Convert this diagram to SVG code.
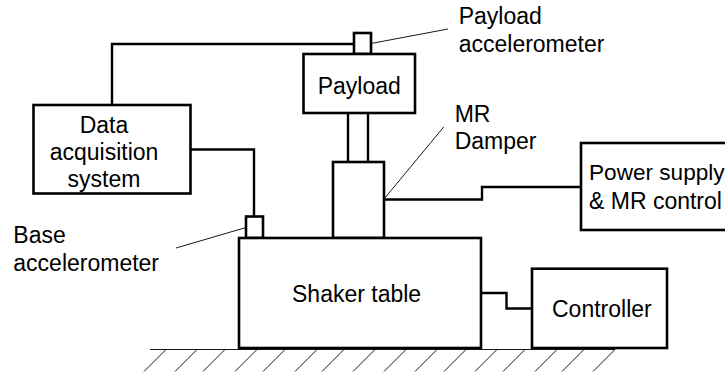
<svg xmlns="http://www.w3.org/2000/svg" width="725" height="373" viewBox="0 0 725 373">
<style>
.b{fill:#fff;stroke:#000;stroke-width:2.6}
.w{fill:none;stroke:#000;stroke-width:2.4}
.l{fill:none;stroke:#000;stroke-width:.9}
text{font-family:"Liberation Sans",Arial,sans-serif;font-size:23px;fill:#000}
text.p{font-size:22.6px}
</style>
<rect width="725" height="373" fill="#fff"/>
<g id="ground">
<path class="l" d="M150 349.500H615M166 349.500L144 371.500M197 349.500L175 371.500M225 349.500L203 371.500M257 349.500L235 371.500M285 349.500L263 371.500M317 349.500L295 371.500M344 349.500L322 371.500M375 349.500L353 371.500M406 349.500L384 371.500M437 349.500L415 371.500M466 349.500L444 371.500M497 349.500L475 371.500M525 349.500L503 371.500M557 349.500L535 371.500M584 349.500L562 371.500M615 349.500L593 371.500"/>
</g>
<g id="connectors">
<path class="w" d="M112 105V44H354"/>
<path class="w" d="M190.500 149.500H254V217"/>
<path class="w" d="M348 113V162M368 113V162"/>
<path class="w" d="M384 199.500H482V187H581"/>
<path class="w" d="M481 293H506.500V308.500H532"/>
<path class="l" d="M371 43.500L448 29M176 248L246 227.500M443.700 127L384 199"/>
</g>
<g id="payload-accelerometer"><rect class="b" x="354" y="33" width="17" height="21"/></g>
<g id="base-accelerometer"><rect class="b" x="246" y="216.500" width="17" height="21.500"/></g>
<g id="data-acquisition"><rect class="b" x="33.500" y="105" width="157" height="88.500"/>
<text x="104" y="132.700" text-anchor="middle">Data</text><text x="104" y="160" text-anchor="middle">acquisition</text><text x="104" y="187.300" text-anchor="middle">system</text></g>
<g id="payload"><rect class="b" x="303.500" y="54" width="111.500" height="59"/><text x="317.700" y="94.300">Payload</text></g>
<g id="mr-damper"><rect class="b" x="333" y="162" width="51" height="76"/></g>
<g id="shaker-table"><rect class="b" x="239" y="238" width="242" height="110"/><text x="292" y="301.700">Shaker table</text></g>
<g id="power-supply"><rect class="b" x="581" y="143" width="150" height="87"/><text class="p" x="589" y="180">Power supply</text><text x="589" y="209">&amp; MR control</text></g>
<g id="controller"><rect class="b" x="532" y="268.700" width="135" height="79.300"/><text x="552" y="316.700">Controller</text></g>
<g id="labels">
<text x="458.700" y="23.500">Payload</text><text x="458.700" y="51.700">accelerometer</text>
<text x="454.700" y="121.700">MR</text><text x="454.700" y="149.300">Damper</text>
<text x="13.300" y="243">Base</text><text x="13.300" y="271">accelerometer</text>
</g>
</svg>
